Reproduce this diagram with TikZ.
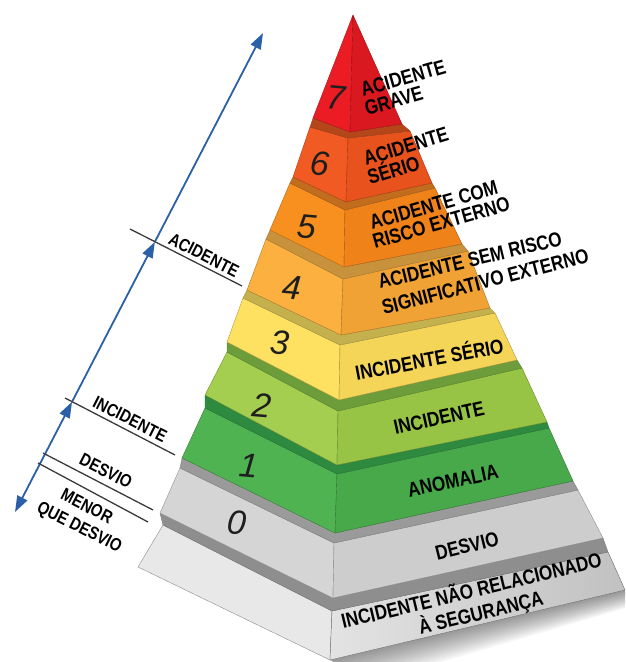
\documentclass[tikz,border=0pt]{standalone}
\usepackage{fontspec}
\setmainfont{Liberation Sans}
\usetikzlibrary{arrows.meta,calc}
\definecolor{c7l}{HTML}{EC1C24}\definecolor{c7r}{HTML}{D9181F}
\definecolor{c6l}{HTML}{F15A22}\definecolor{c6r}{HTML}{E8521C}\definecolor{c6t}{HTML}{B5461A}
\definecolor{c5l}{HTML}{F7901E}\definecolor{c5r}{HTML}{EF8219}\definecolor{c5t}{HTML}{C26C1E}
\definecolor{c4l}{HTML}{FBB040}\definecolor{c4r}{HTML}{F0A334}\definecolor{c4t}{HTML}{C8923C}
\definecolor{c3l}{HTML}{FEE160}\definecolor{c3r}{HTML}{F4D558}\definecolor{c3t}{HTML}{C4B04C}
\definecolor{c2l}{HTML}{A4CE50}\definecolor{c2r}{HTML}{97C444}\definecolor{c2t}{HTML}{6C9D3A}
\definecolor{c1l}{HTML}{50B352}\definecolor{c1r}{HTML}{47A94A}\definecolor{c1t}{HTML}{2E8A3E}
\definecolor{c0l}{HTML}{D5D5D5}\definecolor{c0r}{HTML}{CDCDCD}\definecolor{c0t}{HTML}{9A9A9A}
\definecolor{cml}{HTML}{E8E8E8}\definecolor{cmr}{HTML}{E3E3E3}\definecolor{cmt}{HTML}{8E8E8E}
\definecolor{blueline}{HTML}{2B5FA8}
\definecolor{tickc}{HTML}{3A3A3A}
\newcommand\pyrlayer[3]{%
  \filldraw[fill=#2,draw=#2!70!black,line width=0.4pt,line join=round] (#1TL) -- (#1TF) -- (#1BF) -- (#1BL) -- cycle;
  \filldraw[fill=#3,draw=#3!70!black,line width=0.4pt,line join=round] (#1TF) -- (#1TR) -- (#1BR) -- (#1BF) -- cycle;}
\newcommand\pyrledge[3]{%
  \filldraw[fill=#3,draw=#3!80!black,line width=0.3pt,line join=round] (#1TL) -- (#1TF) -- (#1TR) -- (#2BR) -- (#2BF) -- (#2BL) -- cycle;}
\newcommand\sq[1]{\scalebox{0.9}[1.08]{#1}}
\begin{document}
\begin{tikzpicture}[x=1pt,y=-1pt,
  rlbl/.style={font=\fontsize{19}{19}\selectfont\bfseries,inner sep=0pt,text=black},
  llbl/.style={font=\fontsize{16.5}{16.5}\selectfont\bfseries,inner sep=0pt,text=black,rotate=-27},
  numlbl/.style={font=\fontsize{34}{34}\selectfont\itshape,inner sep=0pt,text=black!88,rotate=-5},
  bluearr/.style={draw=blueline,line width=1.8pt,-{Triangle[length=16pt,width=11pt]}},
  blueplain/.style={draw=blueline,line width=1.8pt},
  tickline/.style={draw=tickc,line width=1.3pt}]
\useasboundingbox (0,0) rectangle (625,662);
\clip (0,0) rectangle (625,662);
% ---------- coordinates of the layers ----------
\coordinate (L7A) at (353,15);
\coordinate (L7BL) at (313,118); \coordinate (L7BF) at (350,132); \coordinate (L7BR) at (402,124);
\coordinate (L6TL) at (310,127); \coordinate (L6TF) at (348,138); \coordinate (L6TR) at (410,131);
\coordinate (L6BL) at (293,177); \coordinate (L6BF) at (346,202); \coordinate (L6BR) at (432,183);
\coordinate (L5TL) at (290,183); \coordinate (L5TF) at (345,210); \coordinate (L5TR) at (435,188);
\coordinate (L5BL) at (270,230); \coordinate (L5BF) at (344,267); \coordinate (L5BR) at (462,244);
\coordinate (L4TL) at (266,239); \coordinate (L4TF) at (343,279); \coordinate (L4TR) at (468,251);
\coordinate (L4BL) at (247,290); \coordinate (L4BF) at (341,335); \coordinate (L4BR) at (490,308);
\coordinate (L3TL) at (243,298); \coordinate (L3TF) at (340,345); \coordinate (L3TR) at (495,313);
\coordinate (L3BL) at (227,342); \coordinate (L3BF) at (339,400); \coordinate (L3BR) at (517,360);
\coordinate (L2TL) at (227,352); \coordinate (L2TF) at (338,411); \coordinate (L2TR) at (522,368);
\coordinate (L2BL) at (205,395); \coordinate (L2BF) at (337,465); \coordinate (L2BR) at (547,422);
\coordinate (L1TL) at (205,408); \coordinate (L1TF) at (337,474); \coordinate (L1TR) at (549,428);
\coordinate (L1BL) at (182,458); \coordinate (L1BF) at (335,533); \coordinate (L1BR) at (573,481);
\coordinate (L0TL) at (180,468); \coordinate (L0TF) at (334,543); \coordinate (L0TR) at (578,490);
\coordinate (L0BL) at (160,513); \coordinate (L0BF) at (333,598); \coordinate (L0BR) at (603,538);
\coordinate (LmTL) at (163,525); \coordinate (LmTF) at (332,611); \coordinate (LmTR) at (608,552);
\coordinate (LmBL) at (138,567); \coordinate (LmBF) at (330,660); \coordinate (LmBR) at (625,590);
% ---------- shadow ----------
\foreach \k in {1,...,14}
  \fill[black,opacity=0.035] (LmBF) -- (LmBR) -- ($(LmBR)+(0,1.3*\k)$) -- ($(LmBF)+(3*\k,1.6*\k)$) -- cycle;
% ---------- layers from the bottom up ----------
\filldraw[fill=cml,draw=cml!60!black,line width=0.4pt,line join=round] (LmTL) -- (LmTF) -- (LmBF) -- (LmBL) -- cycle;
\filldraw[left color=cmr,right color=cmr!85!black,draw=cmr!60!black,line width=0.4pt,line join=round] (LmTF) -- (LmTR) -- (LmBR) -- (LmBF) -- cycle;
\pyrledge{Lm}{L0}{cmt}
\pyrlayer{L0}{c0l}{c0r}
\pyrledge{L0}{L1}{c0t}
\pyrlayer{L1}{c1l}{c1r}
\pyrledge{L1}{L2}{c1t}
\pyrlayer{L2}{c2l}{c2r}
\pyrledge{L2}{L3}{c2t}
\pyrlayer{L3}{c3l}{c3r}
\pyrledge{L3}{L4}{c3t}
\pyrlayer{L4}{c4l}{c4r}
\pyrledge{L4}{L5}{c4t}
\pyrlayer{L5}{c5l}{c5r}
\pyrledge{L5}{L6}{c5t}
\pyrlayer{L6}{c6l}{c6r}
\pyrledge{L6}{L7}{c6t}
\filldraw[fill=c7l,draw=c7l!70!black,line width=0.4pt,line join=round] (L7A) -- (L7BF) -- (L7BL) -- cycle;
\filldraw[fill=c7r,draw=c7r!70!black,line width=0.4pt,line join=round] (L7A) -- (L7BR) -- (L7BF) -- cycle;
% ---------- numbers ----------
\node[numlbl] (n7) at (336,98) {7};
\node[numlbl] (n6) at (320,164) {6};
\node[numlbl] (n5) at (307,227) {5};
\node[numlbl] (n4) at (292,288) {4};
\node[numlbl] (n3) at (280,343) {3};
\node[numlbl] (n2) at (262,405) {2};
\node[numlbl] (n1) at (249,466) {1};
\node[numlbl] (n0) at (237,523) {0};
% ---------- right labels ----------
\node[rlbl,anchor=base west,rotate=16] (r7a) at (363,97) {\sq{ACIDENTE}};
\node[rlbl,anchor=base west,rotate=16] (r7b) at (367,116) {\sq{GRAVE}};
\node[rlbl,anchor=base west,rotate=17] (r6a) at (366,166) {\sq{ACIDENTE}};
\node[rlbl,anchor=base west,rotate=17] (r6b) at (370,185) {\sq{SÉRIO}};
\node[rlbl,anchor=base west,rotate=16] (r5a) at (372,230) {\sq{ACIDENTE COM}};
\node[rlbl,anchor=base west,rotate=16] (r5b) at (375,249) {\sq{RISCO EXTERNO}};
\node[rlbl,anchor=base west,rotate=13.5] (r4a) at (380,289) {\sq{ACIDENTE SEM RISCO}};
\node[rlbl,anchor=base west,rotate=14.5] (r4b) at (384,315) {\sq{SIGNIFICATIVO EXTERNO}};
\node[rlbl,rotate=10.5] (r3) at (429,358) {\sq{INCIDENTE SÉRIO}};
\node[rlbl,rotate=12.5] (r2) at (439,418) {\sq{INCIDENTE}};
\node[rlbl,rotate=12] (r1) at (453,481) {\sq{ANOMALIA}};
\node[rlbl,rotate=14] (r0) at (467,546) {\sq{DESVIO}};
\node[rlbl,rotate=13.5] (rma) at (471,589) {\sq{INCIDENTE NÃO RELACIONADO}};
\node[rlbl,rotate=13.5] (rmb) at (481,613) {\sq{À SEGURANÇA}};
% ---------- blue scale ----------
\coordinate (B) at (15,512);
\coordinate (T) at (263,33);
\coordinate (m1) at ($(B)!0.564!(T)$);
\coordinate (m2) at ($(B)!0.230!(T)$);
\coordinate (m3) at ($(B)!0.121!(T)$);
\coordinate (m4) at ($(B)!0.100!(T)$);
\draw[bluearr] (m1) -- (T);
\draw[bluearr] (m2) -- (m1);
\draw[bluearr] (m3) -- (m2);
\draw[blueplain] (m3) -- (m4);
\draw[bluearr] (m4) -- (B);
% ---------- ticks ----------
\coordinate (ta1) at (130,229); \coordinate (ta2) at (242,286);
\coordinate (ti1) at (65,398);  \coordinate (ti2) at (175,455);
\coordinate (td1) at (43,453);  \coordinate (td2) at (153,510);
\coordinate (tm1) at (38,463);  \coordinate (tm2) at (148,522);
\draw[tickline] (ta1) -- (ta2);
\draw[tickline] (ti1) -- (ti2);
\draw[tickline] (td1) -- (td2);
\draw[tickline] (tm1) -- (tm2);
% ---------- left labels ----------
\node[llbl] (la) at (204,255) {\sq{ACIDENTE}};
\node[llbl] (li) at (130,419) {\sq{INCIDENTE}};
\node[llbl] (ld) at (106,471) {\sq{DESVIO}};
\node[llbl] (lm1) at (87,506) {\sq{MENOR}};
\node[llbl] (lm2) at (79,528) {\sq{QUE DESVIO}};
\end{tikzpicture}
\end{document}
